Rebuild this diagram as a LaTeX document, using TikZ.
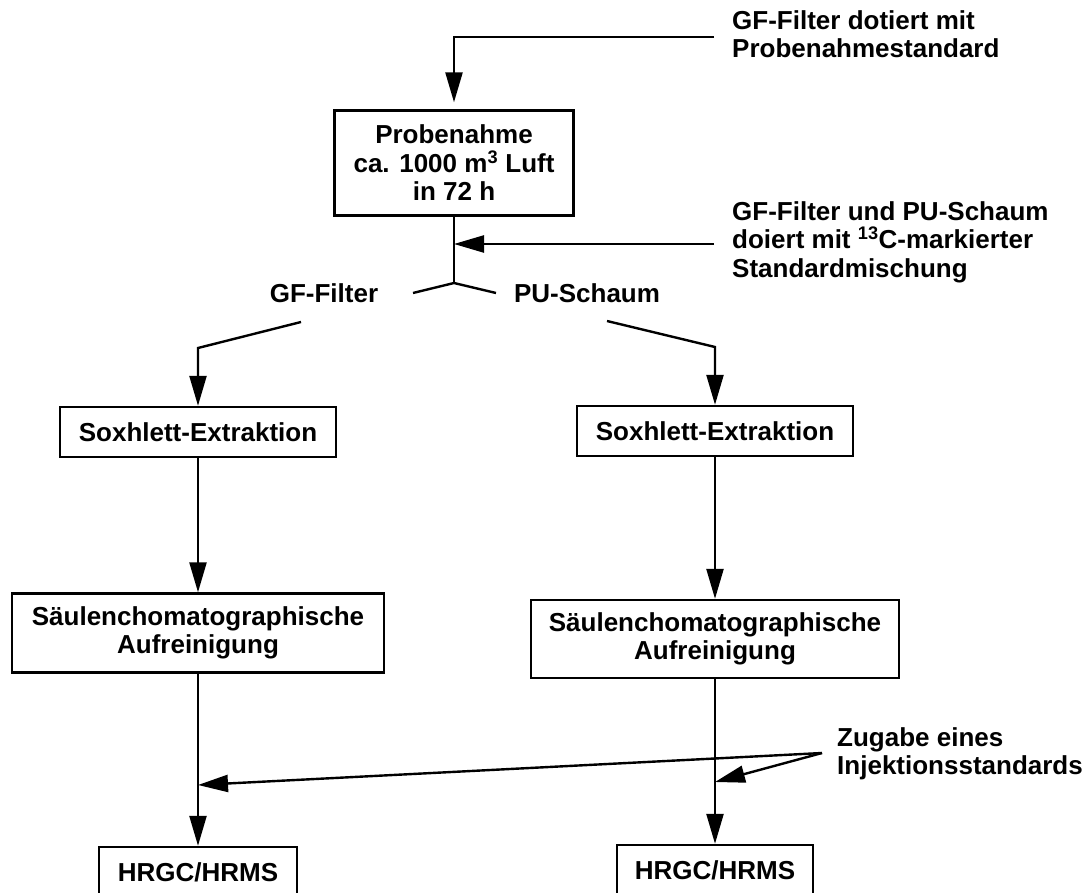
\documentclass[tikz,border=0pt]{standalone}
\usepackage{fontspec}
\setmainfont{Liberation Sans}
\usetikzlibrary{arrows.meta}

\begin{document}
\begin{tikzpicture}[x=1pt,y=-1pt,
	txt/.style={inner sep=0pt,font=\fontsize{26}{28.5}\selectfont\bfseries},
	box/.style={txt,draw=black,line width=2.4pt,align=center},
	note/.style={txt,anchor=west,align=left},
	flow/.style={line width=2.4pt,-{Triangle[length=30pt,width=17pt]}}]
	\useasboundingbox (0,0) rectangle (1086,893);
	
	% Probenahme und Zugaben
	\node[box,minimum width=239pt,minimum height=105pt] (samp) at (454,163) {Probenahme\\ca. 1000 m\textsuperscript{3} Luft\\in 72 h};
	\node[note] (gf) at (732,34) {GF-Filter dotiert mit\\Probenahmestandard};
	\node[note] (std) at (732,242) {GF-Filter und PU-Schaum\\doiert mit \textsuperscript{13}C-markierter\\Standardmischung};
	
	\coordinate (in1) at (714,37);
	\coordinate (in2) at (714,244);
	\coordinate (fork) at (454,283);
	\coordinate (fl) at (413,293);
	\coordinate (fr) at (496,293);
	
	\draw[flow,shorten >=7pt] (in1) -| (samp.north);
	\draw[line width=2.4pt] (samp.south) -- (fork);
	\draw[flow] (in2) -- (in2 -| samp.south);
	\draw[line width=2.4pt] (fl) -- (fork) -- (fr);
	
	\node[txt] (lgf) at (324,293) {GF-Filter};
	\node[txt] (rpu) at (587,293) {PU-Schaum};
	
	% zwei Zweige
	\node[box,minimum width=276pt,minimum height=50pt] (soxl) at (198,432) {Soxhlett-Extraktion};
	\node[box,minimum width=276pt,minimum height=50pt] (soxr) at (715,431) {Soxhlett-Extraktion};
	\node[box,minimum width=372pt,minimum height=79pt] (saul) at (198,633) {Säulenchomatographische\\Aufreinigung};
	\node[box,minimum width=368pt,minimum height=78pt] (saur) at (715,639) {Säulenchomatographische\\Aufreinigung};
	\node[box,minimum width=198pt,minimum height=50pt] (hrl) at (198,872) {HRGC/HRMS};
	\node[box,minimum width=196pt,minimum height=50pt] (hrr) at (715,870) {HRGC/HRMS};
	
	\coordinate (l1) at (301,322);
	\coordinate (l2) at (198,348);
	\coordinate (r1) at (607,321);
	\coordinate (r2) at (715,347);
	
	\draw[flow] (l1) -- (l2) -- (soxl.north);
	\draw[flow] (r1) -- (r2) -- (soxr.north);
	\draw[flow] (soxl) -- (saul);
	\draw[flow] (soxr) -- (saur);
	\draw[flow] (saul) -- (hrl);
	\draw[flow] (saur) -- (hrr);
	
	% Injektionsstandard
	\node[note] (inj) at (837,754) {Zugabe eines\\Injektionsstandards};
	\coordinate (src) at (822,753);
	\coordinate (jl) at (198,785);
	\coordinate (jr) at (715,782);
	\draw[flow] (src) -- (jl);
	\draw[flow] (src) -- (jr);
\end{tikzpicture}
\end{document}
